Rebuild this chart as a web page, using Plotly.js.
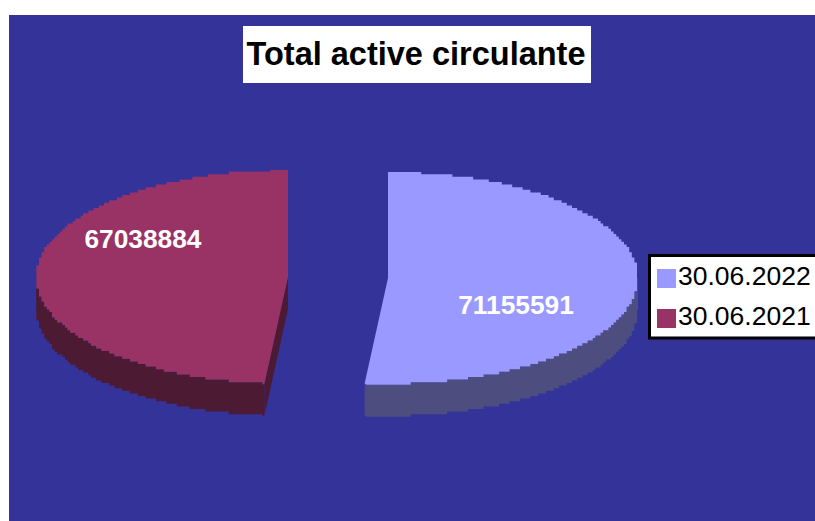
<!DOCTYPE html>
<html>
<head>
<meta charset="utf-8">
<script src="https://cdn.plot.ly/plotly-3.0.1.min.js"></script>
<style>html,body{margin:0;padding:0;background:#fff;overflow:hidden}#chart{width:815px;height:521px}</style>
</head>
<body>
<div id="chart"></div>
<script>
const categories = ['30.06.2022', '30.06.2021'];
const seriesValues = [71155591, 67038884];
const chartTitle = 'Total active circulante';

const topColors = ['#9999ff', '#993366'];
const sideColors = ['#4d4d80', '#4d1a33'];
const geometry = [
  {cx: 388, cy: 278, rx: 250, ry: 106},
  {cx: 288, cy: 277, rx: 252, ry: 107}
];
const depth = 32;
const grid = 2.6;
const labelX = [516, 143];
const labelY = [307, 241];

const total = seriesValues.reduce((a, b) => a + b, 0);
const rad = d => d * Math.PI / 180;

// rim of a wedge, stair-stepped like the low-resolution source rendering
function rim(g, from, to) {
  const px = a => g.cx + g.rx * Math.sin(rad(a));
  const py = a => g.cy - g.ry * Math.cos(rad(a));
  const xs = [px(from)], ys = [py(from)];
  let lx = null, ly = null;
  const n = Math.ceil(Math.abs(to - from) * 6);
  for (let i = 1; i < n; i++) {
    const a = from + (to - from) * i / n;
    const qx = Math.round(px(a) / grid) * grid;
    const qy = Math.max(Math.round(py(a) / grid) * grid, g.cy - g.ry);
    if (lx === null) { lx = qx; ly = qy; xs.push(qx); ys.push(qy); continue; }
    if (qx !== lx || qy !== ly) {
      xs.push(qx); ys.push(ly);
      xs.push(qx); ys.push(qy);
      lx = qx; ly = qy;
    }
  }
  xs.push(px(to)); ys.push(py(to));
  return {xs, ys};
}

function polyTrace(xs, ys, color) {
  return {
    type: 'scatter', mode: 'lines', x: xs, y: ys, fill: 'toself', fillcolor: color,
    line: {width: 0, color: color}, hoverinfo: 'skip', showlegend: false
  };
}

const angles = [];
let acc = 0;
seriesValues.forEach(v => { const s = acc / total * 360; acc += v; angles.push([s, acc / total * 360]); });

const traces = [];
seriesValues.forEach((v, i) => {
  const g = geometry[i];
  const [a0, a1] = angles[i];
  // outer side wall: only the part of the rim that faces the viewer
  const sFrom = Math.max(a0, 90), sTo = Math.min(a1, 270);
  const r = rim(g, sFrom, sTo);
  traces.push(polyTrace(
    r.xs.concat(r.xs.slice().reverse()),
    r.ys.concat(r.ys.slice().reverse().map(y => y + depth)),
    sideColors[i]));
  // cut face, visible on the wedge whose start edge faces the viewer
  if (a0 > 90 && a0 < 270) {
    const tx = g.cx + g.rx * Math.sin(rad(a0)), ty = g.cy - g.ry * Math.cos(rad(a0));
    traces.push(polyTrace([g.cx, tx, tx, g.cx, g.cx], [g.cy, ty, ty + depth, g.cy + depth, g.cy], sideColors[i]));
  }
});
seriesValues.forEach((v, i) => {
  const g = geometry[i];
  const [a0, a1] = angles[i];
  const r = rim(g, a0, a1);
  traces.push(Object.assign(polyTrace(
    [g.cx].concat(r.xs, [g.cx]),
    [g.cy].concat(r.ys, [g.cy]),
    topColors[i]), {name: categories[i]}));
});
traces.push({
  type: 'scatter', mode: 'text', x: labelX, y: labelY,
  text: seriesValues.map(String), textposition: 'middle center',
  textfont: {family: '"Liberation Sans", Arial, sans-serif', size: 26.3, color: '#ffffff', weight: 700},
  hoverinfo: 'skip', showlegend: false
});

const font = '"Liberation Sans", Arial, sans-serif';
const shapes = [
  {type: 'rect', layer: 'below', xref: 'x', yref: 'y', x0: 9, x1: 815, y0: 15, y1: 521, fillcolor: '#333399', line: {width: 0}},
  {type: 'rect', layer: 'above', xref: 'x', yref: 'y', x0: 243, x1: 591, y0: 26, y1: 83, fillcolor: '#ffffff', line: {width: 0}},
  {type: 'rect', layer: 'above', xref: 'x', yref: 'y', x0: 649.5, x1: 830, y0: 255.5, y1: 338, fillcolor: '#ffffff', line: {width: 3, color: '#000000'}}
];
const annotations = [];
const swatchY = [269, 309];
categories.forEach((c, i) => {
  shapes.push({type: 'rect', layer: 'above', xref: 'x', yref: 'y', x0: 657, x1: 676, y0: swatchY[i], y1: swatchY[i] + 19, fillcolor: topColors[i], line: {width: 0}});
  annotations.push({xref: 'x', yref: 'y', x: 677, y: swatchY[i] + 7, text: c, showarrow: false, xanchor: 'left', yanchor: 'middle',
    font: {family: font, size: 26.5, color: '#000000'}, borderpad: 0});
});

const layout = {
  width: 815, height: 521,
  margin: {l: 0, r: 0, t: 0, b: 0},
  paper_bgcolor: '#ffffff', plot_bgcolor: 'rgba(0,0,0,0)',
  showlegend: false,
  title: {text: '<b>' + chartTitle + '</b>', x: 416 / 815, xanchor: 'center', xref: 'paper', y: 1 - 54 / 521, yanchor: 'middle', yref: 'container',
    font: {family: font, size: 32.5, color: '#000000'}},
  xaxis: {range: [0, 815], visible: false, fixedrange: true},
  yaxis: {range: [521, 0], visible: false, fixedrange: true},
  shapes, annotations
};
Plotly.newPlot('chart', traces, layout, {displayModeBar: false, staticPlot: true});
</script>
</body>
</html>
